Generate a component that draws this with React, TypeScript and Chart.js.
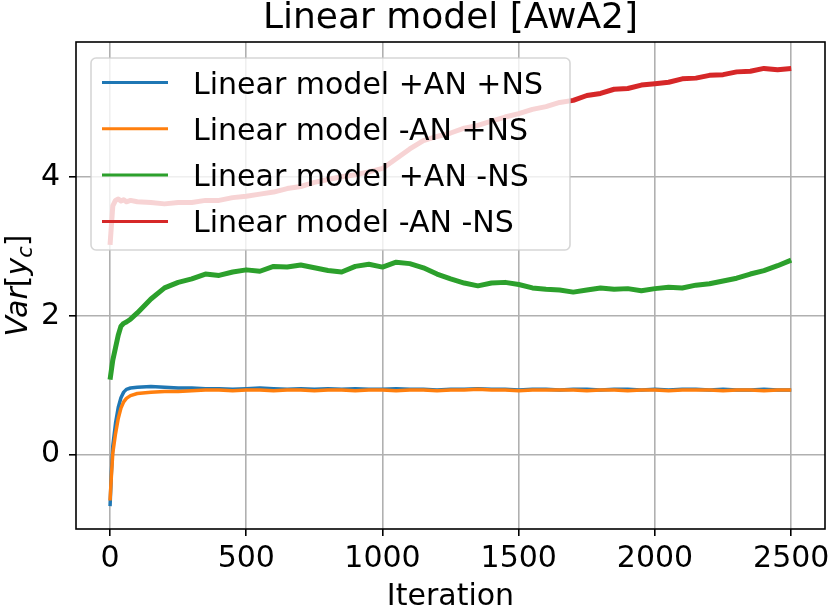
import { useEffect, useRef } from "react";
import { Chart, ChartConfiguration, registerables } from "chart.js";

Chart.register(...registerables);

const FONT = "'DejaVu Sans', 'Liberation Sans', sans-serif";

const iterations = [
  0, 5, 10, 20, 30, 40, 50, 60, 75, 100, 150, 200, 250, 300, 350, 400, 450, 500, 550, 600,
  650, 700, 750, 800, 850, 900, 950, 1000, 1050, 1100, 1150, 1200, 1250, 1300, 1350, 1400,
  1450, 1500, 1550, 1600, 1650, 1700, 1750, 1800, 1850, 1900, 1950, 2000, 2050, 2100, 2150,
  2200, 2250, 2300, 2350, 2400, 2450, 2500,
];

const seriesLabels = [
  "Linear model +AN +NS",
  "Linear model -AN +NS",
  "Linear model +AN -NS",
  "Linear model -AN -NS",
];

const plusAnPlusNs = [
  -0.74, -0.25, 0.12, 0.45, 0.68, 0.82, 0.9, 0.94, 0.96, 0.97, 0.98, 0.97, 0.96, 0.96, 0.95,
  0.95, 0.94, 0.95, 0.96, 0.95, 0.94, 0.95, 0.94, 0.95, 0.94, 0.95, 0.94, 0.94, 0.95, 0.94,
  0.94, 0.93, 0.94, 0.94, 0.95, 0.94, 0.94, 0.93, 0.94, 0.94, 0.93, 0.94, 0.94, 0.93, 0.94,
  0.94, 0.93, 0.94, 0.93, 0.94, 0.94, 0.93, 0.94, 0.93, 0.93, 0.94, 0.93, 0.93,
];

const minusAnPlusNs = [
  -0.66, -0.3, 0.02, 0.3, 0.52, 0.67, 0.76, 0.81, 0.85, 0.88, 0.9, 0.91, 0.91, 0.92, 0.93,
  0.93, 0.92, 0.93, 0.93, 0.92, 0.93, 0.93, 0.92, 0.93, 0.93, 0.92, 0.93, 0.93, 0.92, 0.93,
  0.93, 0.92, 0.93, 0.93, 0.94, 0.93, 0.93, 0.92, 0.93, 0.93, 0.93, 0.93, 0.92, 0.93, 0.93,
  0.92, 0.93, 0.93, 0.92, 0.93, 0.93, 0.93, 0.92, 0.93, 0.93, 0.92, 0.93, 0.93,
];

const plusAnMinusNs = [
  1.08, 1.22, 1.36, 1.54, 1.72, 1.85, 1.89, 1.91, 1.95, 2.04, 2.24, 2.4, 2.48, 2.53, 2.6,
  2.58, 2.63, 2.66, 2.64, 2.71, 2.7, 2.73, 2.69, 2.65, 2.63, 2.71, 2.74, 2.7, 2.77, 2.75,
  2.69, 2.6, 2.53, 2.47, 2.43, 2.47, 2.48, 2.45, 2.4, 2.38, 2.37, 2.34, 2.37, 2.4, 2.38,
  2.39, 2.36, 2.39, 2.41, 2.4, 2.44, 2.46, 2.5, 2.54, 2.6, 2.65, 2.72, 2.8,
];

const minusAnMinusNs = [
  3.02, 3.3, 3.58, 3.66, 3.68, 3.65, 3.67, 3.64, 3.66, 3.64, 3.63, 3.61, 3.63, 3.63, 3.66,
  3.66, 3.7, 3.72, 3.75, 3.78, 3.83, 3.86, 3.92, 3.96, 4.0, 4.03, 4.07, 4.12, 4.26, 4.4,
  4.52, 4.58, 4.63, 4.7, 4.74, 4.8, 4.86, 4.91, 4.97, 5.01, 5.07, 5.1, 5.17, 5.2, 5.26,
  5.27, 5.32, 5.34, 5.36, 5.41, 5.42, 5.46, 5.47, 5.51, 5.52, 5.56, 5.54, 5.56,
];

const seriesValues = [plusAnPlusNs, minusAnPlusNs, plusAnMinusNs, minusAnMinusNs];
const seriesColors = ["#1f77b4", "#ff7f0e", "#2ca02c", "#d62728"];

const xTickValues = [0, 500, 1000, 1500, 2000, 2500];
const yTickValues = [0, 2, 4];

// matplotlib look: title, axis labels, frame and the boxed legend inside the axes
const mplPlugin = {
  id: "mplDecor",
  afterDatasetsDraw(chart: Chart) {
    const ctx = chart.ctx;
    const left = 91;
    const top = 58;
    const w = 479;
    const h = 192;
    ctx.save();
    ctx.beginPath();
    ctx.roundRect(left, top, w, h, 5);
    ctx.fillStyle = "rgba(255,255,255,0.8)";
    ctx.fill();
    ctx.strokeStyle = "rgba(204,204,204,0.8)";
    ctx.lineWidth = 1.6;
    ctx.stroke();

    ctx.font = `30px ${FONT}`;
    ctx.textBaseline = "alphabetic";
    ctx.textAlign = "left";
    chart.data.datasets.forEach((ds, i) => {
      const y = 82.5 + i * 46.3;
      ctx.strokeStyle = ds.borderColor as string;
      ctx.lineWidth = 3;
      ctx.beginPath();
      ctx.moveTo(102, y);
      ctx.lineTo(168, y);
      ctx.stroke();
      ctx.fillStyle = "#000";
      ctx.fillText(ds.label ?? "", 193, y + 11);
    });
    ctx.restore();
  },
  afterDraw(chart: Chart) {
    const ctx = chart.ctx;
    const a = chart.chartArea;
    ctx.save();
    // frame
    ctx.strokeStyle = "#000";
    ctx.lineWidth = 1.6;
    ctx.strokeRect(a.left, a.top, a.right - a.left, a.bottom - a.top);

    ctx.fillStyle = "#000";
    ctx.textAlign = "center";
    ctx.textBaseline = "alphabetic";
    ctx.font = `36px ${FONT}`;
    ctx.fillText("Linear model [AwA2]", (a.left + a.right) / 2, 28);
    ctx.font = `30px ${FONT}`;
    ctx.fillText("Iteration", (a.left + a.right) / 2, 605);

    // y label: $Var[y_c]$
    const parts = [
      { text: "Var", font: `italic 30px ${FONT}`, dy: 0 },
      { text: "[", font: `30px ${FONT}`, dy: 0 },
      { text: "y", font: `italic 30px ${FONT}`, dy: 0 },
      { text: "c", font: `italic 21px ${FONT}`, dy: 5 },
      { text: "]", font: `30px ${FONT}`, dy: 0 },
    ];
    let total = 0;
    const widths = parts.map((p) => {
      ctx.font = p.font;
      const wd = ctx.measureText(p.text).width;
      total += wd;
      return wd;
    });
    ctx.translate(27, (a.top + a.bottom) / 2);
    ctx.rotate(-Math.PI / 2);
    ctx.textAlign = "left";
    let x = -total / 2;
    parts.forEach((p, i) => {
      ctx.font = p.font;
      ctx.fillText(p.text, x, p.dy);
      x += widths[i];
    });
    ctx.restore();
  },
};

export default function App() {
  const canvasRef = useRef<HTMLCanvasElement>(null);
  const chartRef = useRef<Chart | null>(null);

  useEffect(() => {
    if (!canvasRef.current) return;
    const ctx = canvasRef.current.getContext("2d");
    if (!ctx) return;

    if (chartRef.current) {
      chartRef.current.destroy();
    }

    const config: ChartConfiguration<"line"> = {
      type: "line",
      data: {
        datasets: seriesValues.map((vals, i) => ({
          label: seriesLabels[i],
          data: vals.map((v, j) => ({ x: iterations[j], y: v })),
          borderColor: seriesColors[i],
          backgroundColor: seriesColors[i],
          borderWidth: i < 2 ? 3.5 : 5,
          borderJoinStyle: "round",
          pointRadius: 0,
          tension: 0,
          order: 4 - i, // later series on top, like matplotlib
        })),
      },
      options: {
        responsive: false,
        animation: false,
        layout: {
          padding: { top: 42, right: 6, bottom: 0, left: 0 },
        },
        plugins: {
          legend: { display: false },
          title: { display: false },
          tooltip: { enabled: false },
        },
        scales: {
          x: {
            type: "linear",
            min: -125,
            max: 2624,
            afterBuildTicks: (scale) => {
              scale.ticks = xTickValues.map((v) => ({ value: v }));
            },
            afterFit: (scale) => {
              scale.height = 85;
              scale.paddingLeft = 0;
              scale.paddingRight = 0;
            },
            border: { display: false },
            grid: {
              color: "#b0b0b0",
              lineWidth: 1.6,
              tickColor: "#000",
              tickLength: 7,
              tickWidth: 1.6,
            },
            ticks: {
              autoSkip: false,
              maxRotation: 0,
              padding: 5,
              color: "#000",
              font: { family: FONT, size: 30 },
              callback: (v) => String(v),
            },
          },
          y: {
            type: "linear",
            min: -1.07,
            max: 5.94,
            afterBuildTicks: (scale) => {
              scale.ticks = yTickValues.map((v) => ({ value: v }));
            },
            afterFit: (scale) => {
              scale.width = 76;
              scale.paddingTop = 0;
              scale.paddingBottom = 0;
            },
            border: { display: false },
            grid: {
              color: "#b0b0b0",
              lineWidth: 1.6,
              tickColor: "#000",
              tickLength: 7,
              tickWidth: 1.6,
            },
            ticks: {
              autoSkip: false,
              padding: 9,
              color: "#000",
              font: { family: FONT, size: 30 },
              callback: (v) => String(v),
            },
          },
        },
      },
      plugins: [mplPlugin],
    };

    chartRef.current = new Chart(ctx, config);

    return () => {
      if (chartRef.current) {
        chartRef.current.destroy();
        chartRef.current = null;
      }
    };
  }, []);

  return (
    <div style={{ position: "absolute", left: 0, top: 0, width: 831, height: 614, background: "#fff" }}>
      <canvas ref={canvasRef} width={831} height={614} />
    </div>
  );
}
